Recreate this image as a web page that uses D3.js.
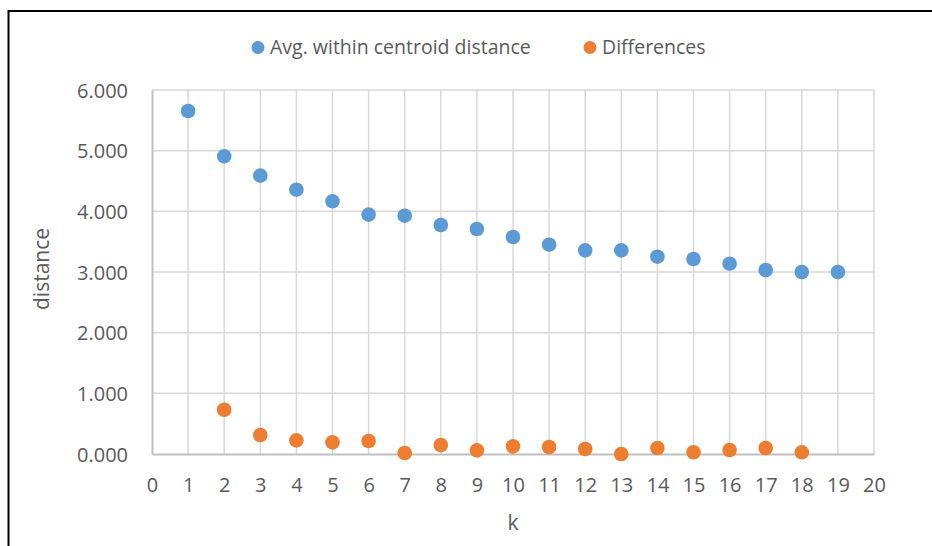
<!DOCTYPE html>
<html>
<head>
<meta charset="utf-8">
<script src="https://cdn.jsdelivr.net/npm/d3@7"></script>
<style>
  body { margin: 0; background: #fff; }
  svg { display: block; font-family: "Open Sans", "Noto Sans", sans-serif; }
</style>
</head>
<body>
<div id="chart"></div>
<script>
// Chart data
const kValues = [1, 2, 3, 4, 5, 6, 7, 8, 9, 10, 11, 12, 13, 14, 15, 16, 17, 18, 19];
const avgDistance = [5.654, 4.907, 4.588, 4.357, 4.165, 3.945, 3.928, 3.775, 3.709, 3.577,
  3.450, 3.357, 3.357, 3.252, 3.214, 3.137, 3.033, 3.000, 3.000];
const diffK = [2, 3, 4, 5, 6, 7, 8, 9, 10, 11, 12, 13, 14, 15, 16, 17, 18];
const differences = [0.730, 0.313, 0.225, 0.192, 0.214, 0.016, 0.148, 0.060, 0.126, 0.115,
  0.082, 0.000, 0.099, 0.028, 0.066, 0.099, 0.028];
const xTicks = d3.range(0, 21);
const yTicks = [0, 1, 2, 3, 4, 5, 6];
const seriesNames = ["Avg. within centroid distance", "Differences"];
const seriesColors = ["#5B9BD5", "#ED7D31"];

const width = 932;
const height = 546;
const margin = { top: 90, right: 58, bottom: 92, left: 152 };

const svg = d3.select("#chart")
  .append("svg")
  .attr("width", width)
  .attr("height", height);

// outer frame (only top and left edges are visible in the picture)
svg.append("rect")
  .attr("x", 8.5)
  .attr("y", 11)
  .attr("width", width + 20)
  .attr("height", height + 20)
  .attr("fill", "none")
  .attr("stroke", "#000")
  .attr("stroke-width", 2);

const x = d3.scaleLinear()
  .domain([0, 20])
  .range([margin.left, width - margin.right]);

const y = d3.scaleLinear()
  .domain([0, 6])
  .range([height - margin.bottom, margin.top]);

// gridlines
const grid = svg.append("g");
grid.selectAll("line.v")
  .data(xTicks.slice(1))
  .join("line")
  .attr("class", "v")
  .attr("x1", d => x(d))
  .attr("x2", d => x(d))
  .attr("y1", y(6))
  .attr("y2", y(0))
  .attr("stroke", "#d9d9d9")
  .attr("stroke-width", 1.5);

grid.selectAll("line.h")
  .data(yTicks.slice(1))
  .join("line")
  .attr("class", "h")
  .attr("x1", x(0))
  .attr("x2", x(20))
  .attr("y1", d => y(d))
  .attr("y2", d => y(d))
  .attr("stroke", "#d9d9d9")
  .attr("stroke-width", 1.5);

// axes
const xAxis = svg.append("g")
  .attr("transform", `translate(0,${y(0)})`)
  .call(d3.axisBottom(x).tickValues(xTicks).tickSize(0).tickPadding(24).tickFormat(d3.format("d")));

const yAxis = svg.append("g")
  .attr("transform", `translate(${x(0)},0)`)
  .call(d3.axisLeft(y).tickValues(yTicks).tickSize(0).tickPadding(24).tickFormat(d3.format(".3f")));

[xAxis, yAxis].forEach(ax => {
  ax.select(".domain").attr("stroke", "#bfbfbf").attr("stroke-width", 2);
  ax.selectAll("text")
    .attr("fill", "#595959")
    .attr("font-size", "20px")
    .attr("font-family", "Open Sans, sans-serif");
});
xAxis.selectAll("text").attr("dy", "0.71em");
yAxis.selectAll("text").attr("dy", "0.35em");

// axis titles
svg.append("text")
  .attr("x", (x(0) + x(20)) / 2)
  .attr("y", 530)
  .attr("text-anchor", "middle")
  .attr("fill", "#595959")
  .attr("font-size", "21px")
  .text("k");

svg.append("text")
  .attr("transform", `translate(49,${(y(0) + y(6)) / 2 - 3}) rotate(-90)`)
  .attr("text-anchor", "middle")
  .attr("fill", "#595959")
  .attr("font-size", "21px")
  .text("distance");

// points
svg.append("g")
  .selectAll("circle")
  .data(kValues.map((k, i) => ({ k, v: avgDistance[i] })))
  .join("circle")
  .attr("cx", d => x(d.k))
  .attr("cy", d => y(d.v))
  .attr("r", 7.3)
  .attr("fill", seriesColors[0]);

svg.append("g")
  .selectAll("circle")
  .data(diffK.map((k, i) => ({ k, v: differences[i] })))
  .join("circle")
  .attr("cx", d => x(d.k))
  .attr("cy", d => y(d.v))
  .attr("r", 7.3)
  .attr("fill", seriesColors[1]);

// legend
const legendPos = [258, 590];
const legend = svg.append("g");
seriesNames.forEach((name, i) => {
  legend.append("circle")
    .attr("cx", legendPos[i])
    .attr("cy", 47.5)
    .attr("r", 6.5)
    .attr("fill", seriesColors[i]);
  legend.append("text")
    .attr("x", legendPos[i] + 12)
    .attr("y", 47.5)
    .attr("dy", "0.35em")
    .attr("fill", "#595959")
    .attr("font-size", "19.5px")
    .text(name);
});
</script>
</body>
</html>
